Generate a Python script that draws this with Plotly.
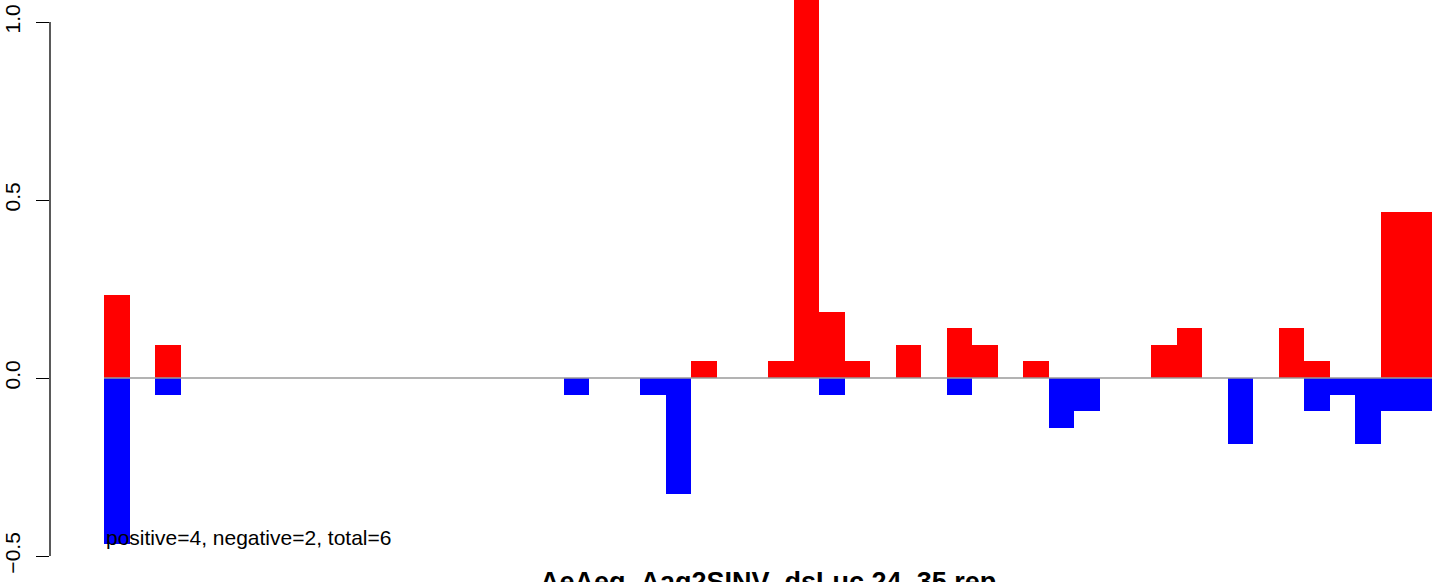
import plotly.graph_objects as go

# ---- data ----
bins = list(range(52))
pos_vals = [
    0.233, 0, 0.093, 0, 0, 0, 0, 0, 0, 0,
    0, 0, 0, 0, 0, 0, 0, 0, 0, 0,
    0, 0, 0, 0.047, 0, 0, 0.047, 1.12, 0.186, 0.047,
    0, 0.093, 0, 0.140, 0.093, 0, 0.047, 0, 0, 0,
    0, 0.093, 0.140, 0, 0, 0, 0.140, 0.047, 0, 0,
    0.466, 0.466]
neg_vals = [
    -0.466, 0, -0.047, 0, 0, 0, 0, 0, 0, 0,
    0, 0, 0, 0, 0, 0, 0, 0, -0.047, 0,
    0, -0.047, -0.326, 0, 0, 0, 0, 0, -0.047, 0,
    0, 0, 0, -0.047, 0, 0, 0, -0.140, -0.093, 0,
    0, 0, 0, 0, -0.186, 0, 0, -0.093, -0.047, -0.186,
    -0.093, -0.093]
y_ticks = [-0.5, 0.0, 0.5, 1.0]
y_tick_labels = ["\u22120.5", "0.0", "0.5", "1.0"]
title_text = "AeAeg_Aag2SINV_dsLuc 24_35 rep"
count_text = "positive=4, negative=2, total=6"

FONT = "Liberation Sans, Arial, Helvetica, sans-serif"

fig = go.Figure()
fig.add_trace(go.Bar(x=bins, y=pos_vals, width=1, marker=dict(color="#FF0000", line=dict(width=0)),
                     showlegend=False, hoverinfo="x+y"))
fig.add_trace(go.Bar(x=bins, y=neg_vals, width=1, marker=dict(color="#0000FF", line=dict(width=0)),
                     showlegend=False, hoverinfo="x+y"))

# zero line across the bars
fig.add_shape(type="line", xref="x", yref="y", x0=-0.5, x1=51.5, y0=0, y1=0,
              line=dict(color="#9a9a9a", width=1.5), layer="above")
# R-style y axis line spanning only the tick range
fig.add_shape(type="line", xref="paper", yref="y", x0=0, x1=0, y0=y_ticks[0], y1=y_ticks[-1],
              line=dict(color="black", width=1.3), layer="above")

fig.add_annotation(x=-0.5, y=-0.447, xref="x", yref="y", text=count_text, showarrow=False,
                   xanchor="left", yanchor="middle", font=dict(family=FONT, size=21, color="black"))
fig.add_annotation(x=25.5, y=-0.010, xref="x", yref="paper", text="<b>" + title_text + "</b>",
                   showarrow=False, xanchor="center", yanchor="middle",
                   font=dict(family=FONT, size=27, color="black"))

fig.update_layout(
    width=1444, height=582,
    margin=dict(l=50, r=0, t=0, b=6, pad=0, autoexpand=False),
    paper_bgcolor="white", plot_bgcolor="white",
    barmode="overlay", bargap=0,
    font=dict(family=FONT, size=21, color="black"),
    xaxis=dict(range=[-2.614, 51.97], showticklabels=False, ticks="", showline=False,
               showgrid=False, zeroline=False, fixedrange=True, automargin=False),
    yaxis=dict(range=[-0.556, 1.062], tickmode="array", tickvals=y_ticks, ticktext=y_tick_labels,
               ticks="outside", ticklen=13, tickwidth=1.3, tickcolor="black", tickangle=-90,
               ticklabelstandoff=8, showline=False, showgrid=False, zeroline=False,
               automargin=False, tickfont=dict(family=FONT, size=21, color="black")),
)

fig.write_html("out.html", config={"displayModeBar": False},
               post_script="document.body.style.margin='0';document.body.style.overflow='hidden';")
